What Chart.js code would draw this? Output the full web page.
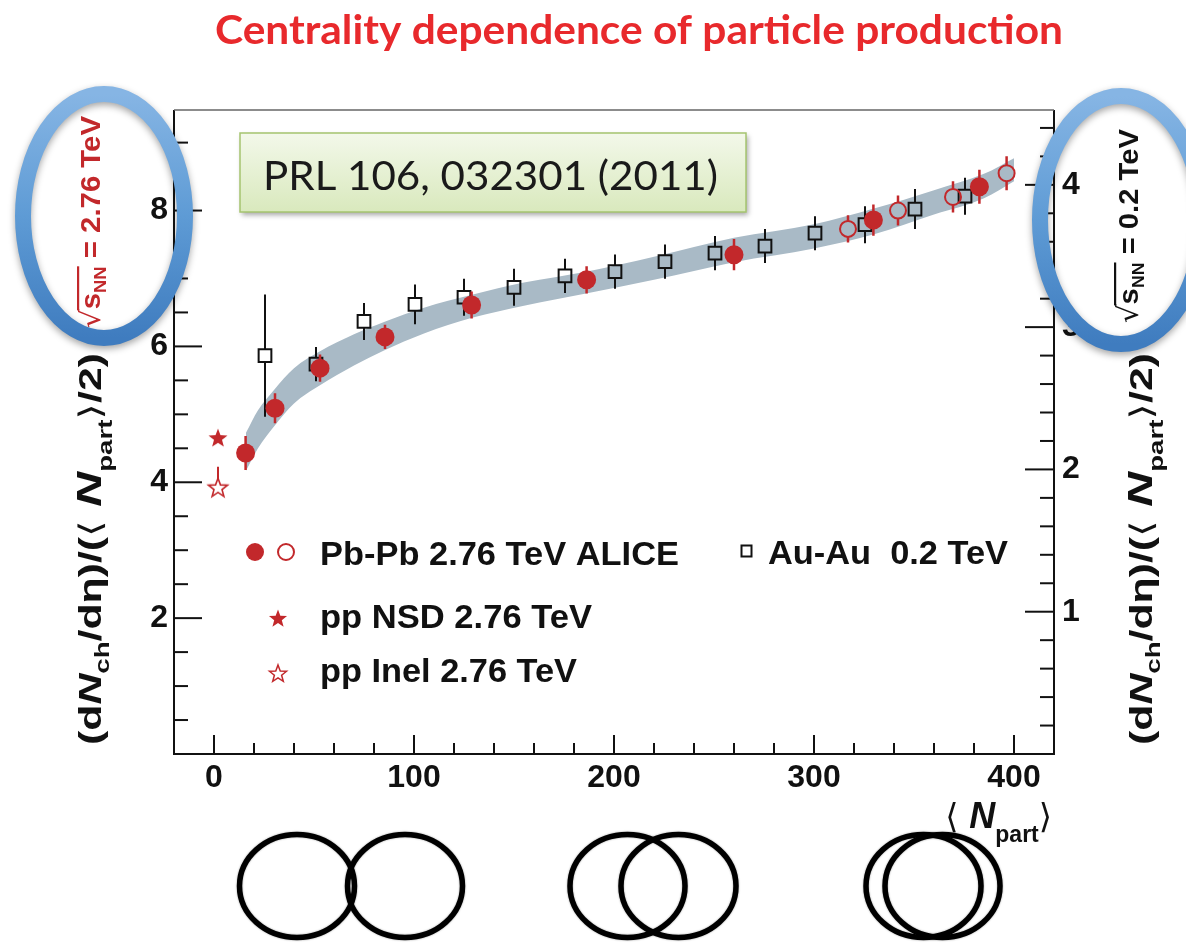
<!DOCTYPE html>
<html>
<head>
<meta charset="utf-8">
<script src="https://cdn.jsdelivr.net/npm/chart.js@4.4.1/dist/chart.umd.min.js"></script>
<style>
  html, body { margin: 0; padding: 0; background: #ffffff; }
  canvas { display: block; }
</style>
</head>
<body>
<canvas id="c" width="1186" height="943"></canvas>
<script>
// ---- Pb-Pb 2.76 TeV ALICE (filled points) ----
const pbpbNpart = [15.8, 30.5, 53.0, 85.5, 128.8, 186.3, 260.0, 329.7, 382.7];
const pbpbValue = [4.43, 5.09, 5.68, 6.14, 6.61, 6.98, 7.35, 7.86, 8.35];
const pbpbErr   = [0.25, 0.22, 0.20, 0.18, 0.20, 0.20, 0.23, 0.23, 0.25];

// ---- Pb-Pb 2.76 TeV ALICE (open points) ----
const pbpbOpenNpart = [317.0, 342.0, 369.5, 396.3];
const pbpbOpenValue = [7.73, 8.00, 8.20, 8.55];
const pbpbOpenErr   = [0.20, 0.22, 0.23, 0.25];

// ---- Au-Au 0.2 TeV (right-hand scale) ----
const auauNpart = [25.5, 51.0, 75.0, 100.5, 125.0, 150.0, 175.5, 200.5, 225.5, 250.5, 275.5, 300.5, 325.5, 350.5, 375.5];
const auauValue = [2.80, 2.74, 3.04, 3.16, 3.21, 3.28, 3.36, 3.39, 3.46, 3.52, 3.57, 3.66, 3.72, 3.83, 3.92];
const auauErr   = [0.43, 0.12, 0.13, 0.14, 0.13, 0.13, 0.12, 0.12, 0.12, 0.12, 0.12, 0.12, 0.13, 0.14, 0.13];

// ---- pp 2.76 TeV ----
const ppNsdNpart  = [2];
const ppNsdValue  = [4.65];
const ppInelNpart = [2];
const ppInelValue = [3.92];
const ppInelErrUp   = [0.31];
const ppInelErrDown = [0.10];

// ---- uncertainty band ----
const bandNpart = [16, 22, 30, 40, 53, 70, 85, 105, 129, 155, 186, 220, 260, 300, 330, 360, 385, 400];
const bandLow   = [4.17, 4.50, 4.82, 5.16, 5.43, 5.72, 5.94, 6.19, 6.42, 6.60, 6.78, 6.98, 7.24, 7.44, 7.65, 7.94, 8.18, 8.43];
const bandHigh  = [4.73, 5.06, 5.36, 5.68, 5.93, 6.18, 6.36, 6.57, 6.76, 6.94, 7.10, 7.32, 7.60, 7.80, 8.03, 8.30, 8.54, 8.77];

// ---- axis ticks ----
const xTickValues     = [0, 100, 200, 300, 400];
const leftTickValues  = [2, 4, 6, 8];
const rightTickValues = [1, 2, 3, 4];
const xMinorStep = 20, leftMinorStep = 0.5, rightMinorStep = 0.2;

const RED = '#c2282b';
const TITLE_RED = '#e8292c';
const BAND = '#a9bac6';
const SANS = '"Liberation Sans", Arial, sans-serif';
const CAL = 'Lato, "Open Sans", sans-serif';

function starPath(ctx, cx, cy, R, r) {
  ctx.beginPath();
  for (let i = 0; i < 10; i++) {
    const rad = i % 2 === 0 ? R : r;
    const a = -Math.PI / 2 + i * Math.PI / 5;
    const px = cx + rad * Math.cos(a), py = cy + rad * Math.sin(a);
    if (i === 0) ctx.moveTo(px, py); else ctx.lineTo(px, py);
  }
  ctx.closePath();
}
function starImage(filled) {
  const cv = document.createElement('canvas');
  cv.width = 24; cv.height = 24;
  const g = cv.getContext('2d');
  starPath(g, 12, 12.5, 10, 4.2);
  if (filled) { g.fillStyle = RED; g.fill(); }
  else { g.strokeStyle = RED; g.lineWidth = 1.6; g.stroke(); }
  return cv;
}
const starFilled = starImage(true);
const starOpen = starImage(false);

const pts = (xs, ys) => xs.map((x, i) => ({ x, y: ys[i] }));

// error bars drawn just before each marker set
const errorBars = {
  id: 'errorBars',
  beforeDatasetDraw(chart, args) {
    const ds = chart.data.datasets[args.index];
    if (!ds.errUp) return;
    const ctx = chart.ctx;
    const ys = chart.scales[ds.yAxisID];
    ctx.save();
    ctx.strokeStyle = ds.errColor;
    ctx.lineWidth = ds.errWidth || 2;
    args.meta.data.forEach((pt, i) => {
      const v = ds.data[i].y;
      const top = ys.getPixelForValue(v + ds.errUp[i]);
      const bot = ys.getPixelForValue(v - ds.errDown[i]);
      const gap = ds.errGap || 0;
      ctx.beginPath();
      if (top < pt.y - gap) { ctx.moveTo(pt.x, pt.y - gap); ctx.lineTo(pt.x, top); }
      if (bot > pt.y + gap) { ctx.moveTo(pt.x, pt.y + gap); ctx.lineTo(pt.x, bot); }
      ctx.stroke();
    });
    ctx.restore();
  }
};

function richMeasure(ctx, parts) {
  let w = 0;
  for (const p of parts) { ctx.font = p.f; p._w = ctx.measureText(p.t).width; w += p._w; }
  return w;
}
function drawRich(ctx, parts, x, y, rot, len, align, color, olY) {
  const nat = richMeasure(ctx, parts);
  const sx = len ? len / nat : 1;
  ctx.save();
  ctx.translate(x, y);
  ctx.rotate(rot);
  ctx.scale(sx, 1);
  let cx = align === 'center' ? -nat / 2 : (align === 'right' ? -nat : 0);
  ctx.fillStyle = color;
  ctx.textBaseline = 'alphabetic';
  ctx.textAlign = 'left';
  let o0 = null, o1 = null;
  for (const p of parts) {
    ctx.font = p.f;
    ctx.fillText(p.t, cx, p.dy || 0);
    if (p.ol) { if (o0 === null) o0 = cx - 1; o1 = cx + p._w; }
    cx += p._w;
  }
  if (o0 !== null) ctx.fillRect(o0, olY, o1 - o0, 2.2);
  ctx.restore();
}
function fitText(ctx, text, font, x, y, width, color) {
  ctx.save();
  ctx.font = font;
  const w = ctx.measureText(text).width;
  ctx.translate(x, y);
  ctx.scale(width / w, 1);
  ctx.fillStyle = color;
  ctx.textAlign = 'left';
  ctx.textBaseline = 'alphabetic';
  ctx.fillText(text, 0, 0);
  ctx.restore();
}

function axisTitleParts(size) {
  const b = `bold ${size}px ${SANS}`;
  const bi = `italic bold ${size}px ${SANS}`;
  const sub = `bold ${Math.round(size * 0.66)}px ${SANS}`;
  const ang = `${size}px "DejaVu Sans", sans-serif`;
  return [
    { t: '(d', f: b }, { t: 'N', f: bi }, { t: 'ch', f: sub, dy: size * 0.26 },
    { t: '/d', f: b }, { t: 'η', f: b }, { t: ')/(', f: b },
    { t: '⟨ ', f: ang }, { t: 'N', f: `italic bold ${Math.round(size * 1.12)}px ${SANS}` },
    { t: 'part', f: sub, dy: size * 0.34 }, { t: '⟩', f: ang }, { t: '/2)', f: b }
  ];
}
function sqrtParts(size, energy) {
  const b = `bold ${size}px ${SANS}`;
  return [
    { t: '√', f: `${size}px "DejaVu Sans", sans-serif` },
    { t: 's', f: b, ol: true },
    { t: 'NN', f: `bold ${Math.round(size * 0.62)}px ${SANS}`, dy: size * 0.22, ol: true },
    { t: ' = ' + energy + ' TeV', f: b }
  ];
}

function ringEllipse(ctx, cx, cy, rx, ry) {
  ctx.save();
  const g = ctx.createLinearGradient(0, cy - ry, 0, cy + ry);
  g.addColorStop(0, '#86b5e4');
  g.addColorStop(0.5, '#5e9bd5');
  g.addColorStop(1, '#3f7cbf');
  ctx.strokeStyle = g;
  ctx.lineWidth = 16;
  ctx.shadowColor = 'rgba(0,0,0,0.35)';
  ctx.shadowBlur = 7;
  ctx.shadowOffsetY = 3;
  ctx.beginPath();
  ctx.ellipse(cx, cy, rx, ry, 0, 0, Math.PI * 2);
  ctx.stroke();
  ctx.restore();
}

const frameAndTicks = {
  id: 'frameAndTicks',
  beforeDatasetsDraw(chart) {
    const ctx = chart.ctx;
    const a = chart.chartArea;
    const xs = chart.scales.x, yl = chart.scales.y, yr = chart.scales.y2;
    ctx.save();
    ctx.strokeStyle = '#111';
    ctx.lineWidth = 2;
    // x ticks
    for (let v = xs.min; v <= xs.max + 1e-6; v += xMinorStep) {
      const major = xTickValues.includes(Math.round(v));
      const px = xs.getPixelForValue(v);
      ctx.beginPath(); ctx.moveTo(px, a.bottom); ctx.lineTo(px, a.bottom - (major ? 19 : 11)); ctx.stroke();
    }
    // left ticks
    for (let v = leftMinorStep; v < yl.max; v += leftMinorStep) {
      const major = leftTickValues.some(t => Math.abs(t - v) < 1e-6);
      const py = yl.getPixelForValue(v);
      ctx.beginPath(); ctx.moveTo(a.left, py); ctx.lineTo(a.left + (major ? 28 : 14), py); ctx.stroke();
    }
    // right ticks
    for (let v = rightMinorStep; v < yr.max; v += rightMinorStep) {
      const major = rightTickValues.some(t => Math.abs(t - v) < 1e-6);
      const py = yr.getPixelForValue(v);
      ctx.beginPath(); ctx.moveTo(a.right, py); ctx.lineTo(a.right - (major ? 29 : 14), py); ctx.stroke();
    }
    // frame
    ctx.beginPath();
    ctx.moveTo(a.left, a.top); ctx.lineTo(a.left, a.bottom); ctx.lineTo(a.right, a.bottom); ctx.lineTo(a.right, a.top);
    ctx.stroke();
    ctx.strokeStyle = '#666'; ctx.lineWidth = 1.5;
    ctx.beginPath(); ctx.moveTo(a.left, a.top); ctx.lineTo(a.right, a.top); ctx.stroke();
    ctx.restore();
  }
};

const decorations = {
  id: 'decorations',
  afterDraw(chart) {
    const ctx = chart.ctx;

    // heading
    fitText(ctx, 'Centrality dependence of particle production', `bold 40px ${CAL}`, 215, 44, 848, TITLE_RED);

    // reference box
    ctx.save();
    const bg = ctx.createLinearGradient(0, 133, 0, 212);
    bg.addColorStop(0, '#f3f8ea');
    bg.addColorStop(1, '#d9e9bd');
    ctx.shadowColor = 'rgba(0,0,0,0.35)';
    ctx.shadowBlur = 5; ctx.shadowOffsetX = 2; ctx.shadowOffsetY = 3;
    ctx.fillStyle = bg;
    ctx.fillRect(240, 133, 506, 79);
    ctx.shadowColor = 'transparent';
    ctx.strokeStyle = '#a5c46f'; ctx.lineWidth = 1.5;
    ctx.strokeRect(240, 133, 506, 79);
    ctx.restore();
    fitText(ctx, 'PRL 106, 032301 (2011)', `40px ${CAL}`, 263, 190, 455, '#1a1a1a');

    // legend
    ctx.save();
    ctx.fillStyle = RED;
    ctx.beginPath(); ctx.arc(255, 552, 9, 0, Math.PI * 2); ctx.fill();
    ctx.strokeStyle = RED; ctx.lineWidth = 2;
    ctx.beginPath(); ctx.arc(286, 552, 8, 0, Math.PI * 2); ctx.stroke();
    starPath(ctx, 278, 619, 9.5, 4); ctx.fill();
    ctx.lineWidth = 1.5; starPath(ctx, 278, 674, 9, 3.8); ctx.stroke();
    ctx.strokeStyle = '#111'; ctx.lineWidth = 2;
    ctx.strokeRect(741.5, 545.5, 10, 11);
    ctx.restore();
    const lf = `bold 33px ${SANS}`;
    fitText(ctx, 'Pb-Pb 2.76 TeV ALICE', lf, 320, 565, 359, '#111');
    fitText(ctx, 'Au-Au  0.2 TeV', lf, 768, 564, 240, '#111');
    fitText(ctx, 'pp NSD 2.76 TeV', lf, 320, 628, 272, '#111');
    fitText(ctx, 'pp Inel 2.76 TeV', lf, 320, 682, 257, '#111');

    // axis titles
    drawRich(ctx, axisTitleParts(31), 101, 549, -Math.PI / 2, 392, 'center', '#111');
    drawRich(ctx, axisTitleParts(31), 1152, 549, -Math.PI / 2, 392, 'center', '#111');
    drawRich(ctx, sqrtParts(27, '2.76'), 100, 222, -Math.PI / 2, 212, 'center', RED, -23);
    drawRich(ctx, sqrtParts(28, '0.2'), 1138, 226, -Math.PI / 2, 194, 'center', '#111', -24);

    // x axis title
    drawRich(ctx, [
      { t: '⟨ ', f: `34px "DejaVu Sans", sans-serif` },
      { t: 'N', f: `italic bold 36px ${SANS}` },
      { t: 'part', f: `bold 23px ${SANS}`, dy: 14 },
      { t: '⟩', f: `34px "DejaVu Sans", sans-serif` }
    ], 1052, 828, 0, 0, 'right', '#111');

    // collision sketches
    ctx.save();
    ctx.strokeStyle = '#000';
    ctx.lineWidth = 5.5;
    ctx.shadowColor = 'rgba(0,0,0,0.4)';
    ctx.shadowBlur = 2;
    [[297, 405], [627.5, 678.5], [923.5, 942.5]].forEach(pair => {
      pair.forEach(cx => {
        ctx.beginPath(); ctx.ellipse(cx, 886, 57.5, 51.5, 0, 0, Math.PI * 2); ctx.stroke();
      });
    });
    ctx.restore();

    // highlight rings
    ringEllipse(ctx, 104, 216, 81, 122);
    ringEllipse(ctx, 1121, 220, 81, 124);
  }
};

const tickFont = { family: SANS, size: 32, weight: 'bold' };

new Chart(document.getElementById('c'), {
  type: 'scatter',
  data: {
    datasets: [
      { label: 'Pb-Pb 2.76 TeV ALICE', data: pts(pbpbNpart, pbpbValue), yAxisID: 'y',
        pointStyle: 'circle', pointRadius: 9.5, backgroundColor: RED, borderWidth: 0,
        errUp: pbpbErr, errDown: pbpbErr, errColor: RED, errWidth: 2.5, order: 1 },
      { label: 'Pb-Pb 2.76 TeV ALICE (open)', data: pts(pbpbOpenNpart, pbpbOpenValue), yAxisID: 'y',
        pointStyle: 'circle', pointRadius: 8, backgroundColor: 'rgba(0,0,0,0)', borderColor: RED, borderWidth: 2,
        errUp: pbpbOpenErr, errDown: pbpbOpenErr, errColor: RED, errWidth: 2.5, errGap: 8, order: 1 },
      { label: 'Au-Au 0.2 TeV', data: pts(auauNpart, auauValue), yAxisID: 'y2',
        pointStyle: 'rect', pointRadius: 9, backgroundColor: 'rgba(0,0,0,0)', borderColor: '#111', borderWidth: 2,
        errUp: auauErr, errDown: auauErr, errColor: '#111', errWidth: 2, errGap: 6.5, order: 1 },
      { label: 'pp NSD 2.76 TeV', data: pts(ppNsdNpart, ppNsdValue), yAxisID: 'y',
        pointStyle: starFilled, pointRadius: 10, order: 1 },
      { label: 'pp Inel 2.76 TeV', data: pts(ppInelNpart, ppInelValue), yAxisID: 'y',
        pointStyle: starOpen, pointRadius: 10,
        errUp: ppInelErrUp, errDown: ppInelErrDown, errColor: RED, errWidth: 2, errGap: 8, order: 1 },
      { label: 'band low', type: 'line', data: pts(bandNpart, bandLow), yAxisID: 'y',
        borderWidth: 0, borderColor: 'rgba(0,0,0,0)', pointRadius: 0, fill: false,
        cubicInterpolationMode: 'monotone', order: 20 },
      { label: 'band high', type: 'line', data: pts(bandNpart, bandHigh), yAxisID: 'y',
        borderWidth: 0, borderColor: 'rgba(0,0,0,0)', pointRadius: 0, fill: 5, backgroundColor: BAND,
        cubicInterpolationMode: 'monotone', order: 19 }
    ]
  },
  options: {
    responsive: false,
    animation: false,
    events: [],
    layout: { padding: { left: 0, right: 0, top: 110, bottom: 0 } },
    plugins: { legend: { display: false }, tooltip: { enabled: false }, title: { display: false } },
    scales: {
      x: {
        type: 'linear', min: -20, max: 420,
        grid: { display: false, drawTicks: false }, border: { display: false },
        afterBuildTicks: s => { s.ticks = xTickValues.map(v => ({ value: v })); },
        afterFit: s => { s.height = 189; },
        ticks: { font: tickFont, color: '#111', padding: 5, maxRotation: 0, minRotation: 0, autoSkip: false }
      },
      y: {
        type: 'linear', position: 'left', min: 0, max: 9.48,
        grid: { display: false, drawTicks: false }, border: { display: false },
        afterBuildTicks: s => { s.ticks = leftTickValues.map(v => ({ value: v })); },
        afterFit: s => { s.width = 174; },
        ticks: { font: tickFont, color: '#111', padding: 6, autoSkip: false }
      },
      y2: {
        type: 'linear', position: 'right', min: 0, max: 4.526,
        grid: { display: false, drawTicks: false }, border: { display: false },
        afterBuildTicks: s => { s.ticks = rightTickValues.map(v => ({ value: v })); },
        afterFit: s => { s.width = 132; },
        ticks: { font: tickFont, color: '#111', padding: 8, autoSkip: false }
      }
    }
  },
  plugins: [frameAndTicks, errorBars, decorations]
});
</script>
</body>
</html>
